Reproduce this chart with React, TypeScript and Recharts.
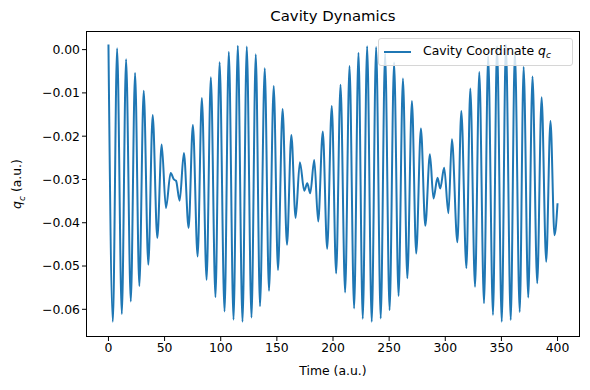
import { LineChart, Line, XAxis, YAxis } from "recharts";

// time stamps (a.u.) of the peaks / troughs
const timeValues = [
  0, 3.9, 7.7, 11.9, 15.7, 19.9, 23.7, 27.5, 31.4, 35.5,
  39.4, 43.5, 47.4, 51.2, 55.4, 58.3, 60.2, 63.4, 67.2, 71.4,
  75.2, 79.4, 83.2, 87.4, 91.2, 95.3, 99.0, 103.4, 107.2, 111.4,
  115.2, 119.4, 123.2, 127.4, 131.2, 135.0, 139.2, 143.0, 147.2, 151.0,
  155.1, 159.0, 162.9, 166.7, 170.5, 174.4, 177.1, 179.7, 183.3, 186.8,
  190.9, 194.8, 198.9, 202.8, 206.7, 210.8, 214.7, 218.8, 222.7, 226.5,
  230.4, 234.5, 238.4, 242.5, 246.4, 250.4, 254.4, 258.4, 262.3, 266.2,
  270.3, 274.1, 278.3, 282.2, 286.3, 289.5, 293.1, 295.5, 299.0, 302.8,
  305.9, 310.8, 314.3, 318.8, 322.3, 326.5, 330.3, 334.5, 338.2, 342.5,
  346.1, 350.3, 354.0, 358.3, 362.0, 366.3, 369.8, 373.9, 377.7, 381.9,
  385.8, 389.9, 393.7, 397.3, 400,
];

// cavity coordinate q_c at those times
const cavityValues = [
  0.0012, -0.0629, 0.0003, -0.0611, -0.0022, -0.0582, -0.0054, -0.0546, -0.0095, -0.0497,
  -0.0151, -0.0435, -0.0219, -0.0366, -0.0285, -0.03, -0.0303, -0.0349, -0.0239, -0.0412,
  -0.0174, -0.0478, -0.0112, -0.0532, -0.0064, -0.0572, -0.0029, -0.0605, -0.0005, -0.0624,
  0.0009, -0.0629, 0.0007, -0.0619, -0.0011, -0.0593, -0.0043, -0.0557, -0.0084, -0.0509,
  -0.0137, -0.0451, -0.0197, -0.0389, -0.026, -0.0326, -0.0309, -0.0332, -0.0255, -0.0397,
  -0.0189, -0.046, -0.013, -0.0517, -0.0081, -0.0561, -0.0038, -0.0598, -0.0007, -0.0622,
  0.0008, -0.0629, 0.0006, -0.0621, -0.0009, -0.0602, -0.003, -0.0569, -0.0067, -0.0528,
  -0.0119, -0.0471, -0.0182, -0.0407, -0.0242, -0.0344, -0.0296, -0.0321, -0.0273, -0.0378,
  -0.0207, -0.0445, -0.0142, -0.0505, -0.009, -0.0548, -0.0052, -0.0586, -0.0015, -0.0613,
  0.0008, -0.0629, 0.0012, -0.0625, -0.0005, -0.0606, -0.004, -0.0573, -0.0062, -0.054,
  -0.011, -0.049, -0.0165, -0.0429, -0.0355,
];

const xTicks = [0, 50, 100, 150, 200, 250, 300, 350, 400];
const yTicks = [0, -0.01, -0.02, -0.03, -0.04, -0.05, -0.06];

const data = timeValues.map((t, i) => ({ t, q: cavityValues[i] }));

const FONT = "'DejaVu Sans', sans-serif";
const BLUE = "#1f77b4";
// plot box in page pixels
const box = { left: 86, top: 31, right: 580, bottom: 337 };

const fmtY = (v: number) => (Math.abs(v) < 1e-9 ? "0.00" : "\u2212" + Math.abs(v).toFixed(2));

export default function App() {
  return (
    <div style={{ position: "absolute", left: 0, top: 0, width: 590, height: 390, background: "#fff", fontFamily: FONT }}>
      <LineChart
        width={590}
        height={390}
        data={data}
        margin={{ top: box.top, right: 590 - box.right, bottom: 23, left: 10 }}
      >
        <XAxis
          dataKey="t"
          type="number"
          domain={[-20, 420]}
          ticks={xTicks}
          axisLine={false}
          tickSize={4}
          height={30}
          tick={{ fontSize: 12.4, fill: "#000", fontFamily: FONT }}
          tickLine={{ stroke: "#000" }}
          interval={0}
        />
        <YAxis
          type="number"
          domain={[-0.0664, 0.0043]}
          ticks={yTicks}
          allowDataOverflow
          axisLine={false}
          tickSize={4}
          width={box.left - 10}
          tickFormatter={fmtY}
          tick={{ fontSize: 12.4, fill: "#000", fontFamily: FONT }}
          tickLine={{ stroke: "#000" }}
          interval={0}
        />
        <Line
          dataKey="q"
          type="monotone"
          stroke={BLUE}
          strokeWidth={2}
          dot={false}
          isAnimationActive={false}
        />
      </LineChart>

      {/* frame */}
      <div
        style={{
          position: "absolute",
          left: box.left,
          top: box.top,
          width: box.right - box.left,
          height: box.bottom - box.top,
          border: "1px solid #000",
          boxSizing: "border-box",
          pointerEvents: "none",
        }}
      />

      {/* title */}
      <div style={{ position: "absolute", left: box.left, width: box.right - box.left, top: 7, textAlign: "center", fontSize: 14.9 }}>
        Cavity Dynamics
      </div>

      {/* x label */}
      <div style={{ position: "absolute", left: box.left, width: box.right - box.left, top: 363, textAlign: "center", fontSize: 12.4 }}>
        Time (a.u.)
      </div>

      {/* y label */}
      <div
        style={{
          position: "absolute",
          left: 18,
          top: (box.top + box.bottom) / 2,
          transform: "translate(-50%, -50%) rotate(-90deg)",
          whiteSpace: "nowrap",
          fontSize: 12.4,
        }}
      >
        <i>q</i>
        <sub style={{ fontSize: 9, fontStyle: "italic" }}>c</sub> (a.u.)
      </div>

      {/* legend */}
      <div
        style={{
          position: "absolute",
          left: 378,
          top: 38,
          width: 195,
          height: 28,
          boxSizing: "border-box",
          background: "rgba(255,255,255,0.8)",
          border: "1px solid #d6d6d6",
          borderRadius: 3,
          display: "flex",
          alignItems: "center",
          fontSize: 12.4,
          whiteSpace: "nowrap",
        }}
      >
        <span style={{ display: "inline-block", width: 27, height: 2, background: BLUE, marginLeft: 5, marginRight: 12 }} />
        <span>
          Cavity Coordinate <i>q</i>
          <sub style={{ fontSize: 9, fontStyle: "italic" }}>c</sub>
        </span>
      </div>
    </div>
  );
}
